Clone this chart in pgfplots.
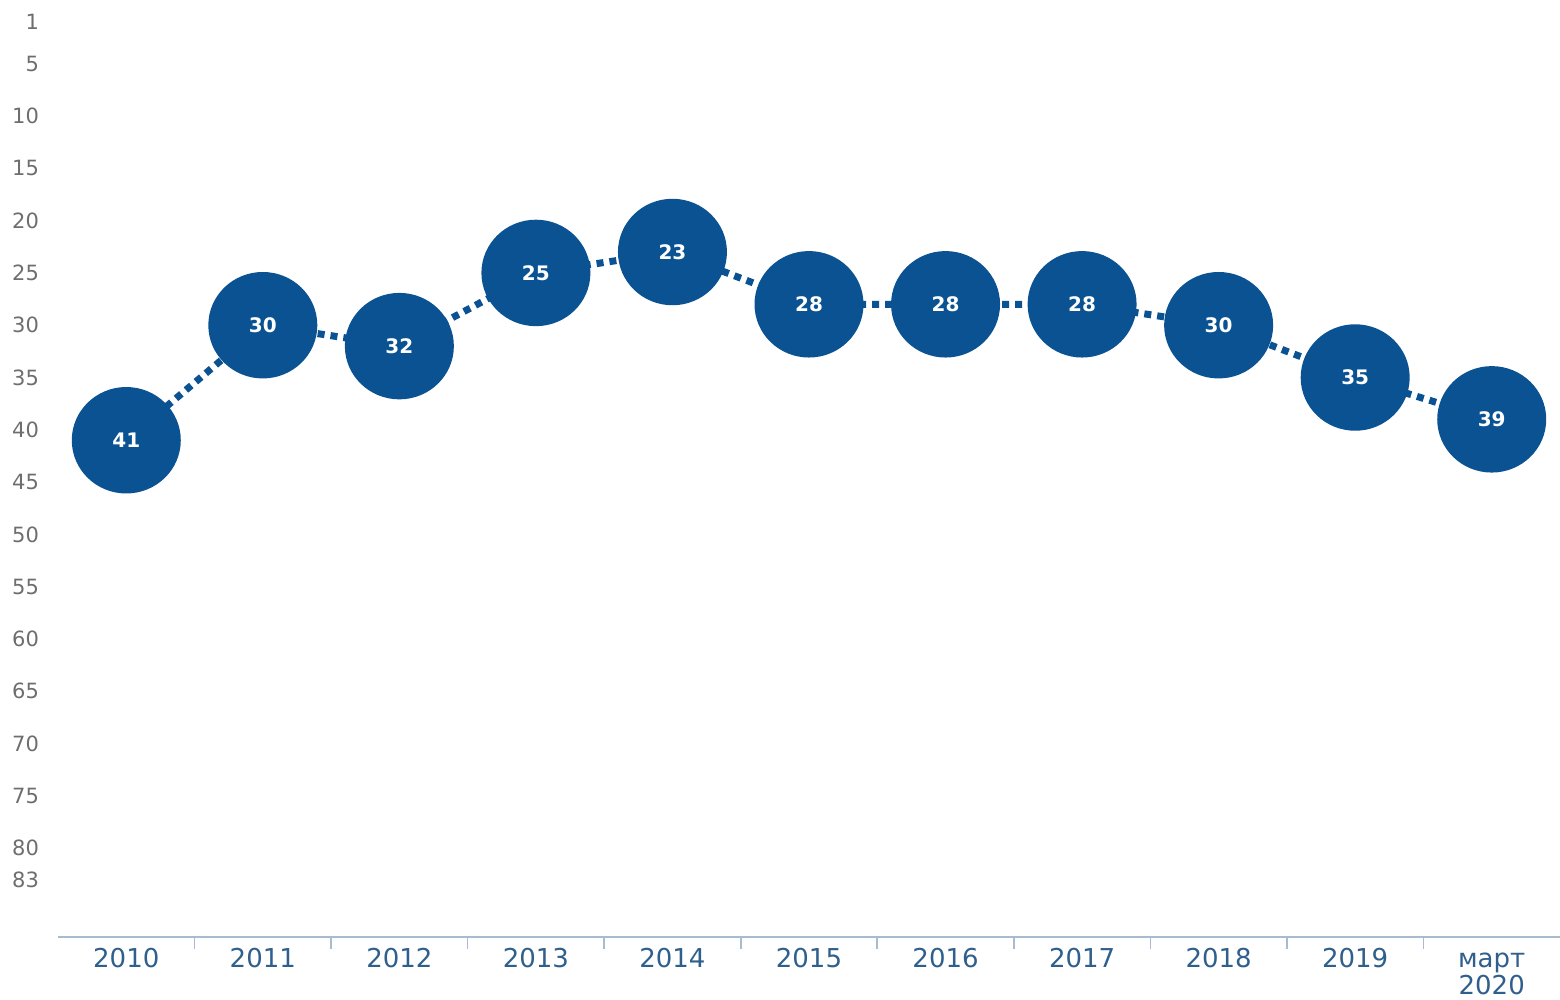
\documentclass[border=0pt]{standalone}
\usepackage{fontspec}
\setmainfont{DejaVu Sans}
\usepackage{pgfplots}
\pgfplotsset{compat=1.18}
\definecolor{dotblue}{HTML}{0A5292}
\definecolor{ylab}{HTML}{6E6E6E}
\definecolor{xlab}{HTML}{2F5F8C}
\definecolor{axline}{HTML}{A9BCCF}
\begin{document}
\begin{tikzpicture}
\begin{axis}[
  /pgf/number format/assume math mode=true,
  at={(29pt,31.5pt)}, anchor=south west,
  scale only axis, width=751pt, height=462.75pt,
  xmin=-0.5, xmax=10.5, ymin=0, ymax=88.5, y dir=reverse,
  axis x line*=bottom,
  x axis line style={draw=axline, line width=0.8pt, -},
  y axis line style={draw=none},
  ytick style={draw=none},
  yticklabel pos=left,
  xtick={0,1,2,3,4,5,6,7,8,9,10},
  xticklabels={2010,2011,2012,2013,2014,2015,2016,2017,2018,2019,{\vphantom{2}март\\2020}},
  major tick length=0pt,
  minor xtick={0.5,1.5,2.5,3.5,4.5,5.5,6.5,7.5,8.5,9.5},
  minor tick length=6pt,
  tick align=outside,
  minor tick style={draw=axline, line width=0.8pt},
  ytick={1,5,10,15,20,25,30,35,40,45,50,55,60,65,70,75,80,83},
  yticklabel style={anchor=east, text=ylab, font=\fontsize{10.5}{12}\selectfont, xshift=-6pt},
  xticklabel style={align=center, text=xlab, font=\fontsize{13}{13.5}\selectfont, anchor=north, yshift=-2pt},
  clip=false,
  nodes near coords,
  every node near coord/.append style={anchor=center, text=white, font=\bfseries\fontsize{10}{12}\selectfont},
]
\addplot[draw=dotblue, line width=3.5pt, dash pattern=on 3.5pt off 3pt,
  mark=*, mark size=25.5pt, mark options={solid, fill=dotblue, draw=none, yscale=0.975}]
  coordinates {(0,41) (1,30) (2,32) (3,25) (4,23) (5,28) (6,28) (7,28) (8,30) (9,35) (10,39)};
\end{axis}
\pgfresetboundingbox
\path (0,0) rectangle (780pt,500pt);
\end{tikzpicture}
\end{document}
